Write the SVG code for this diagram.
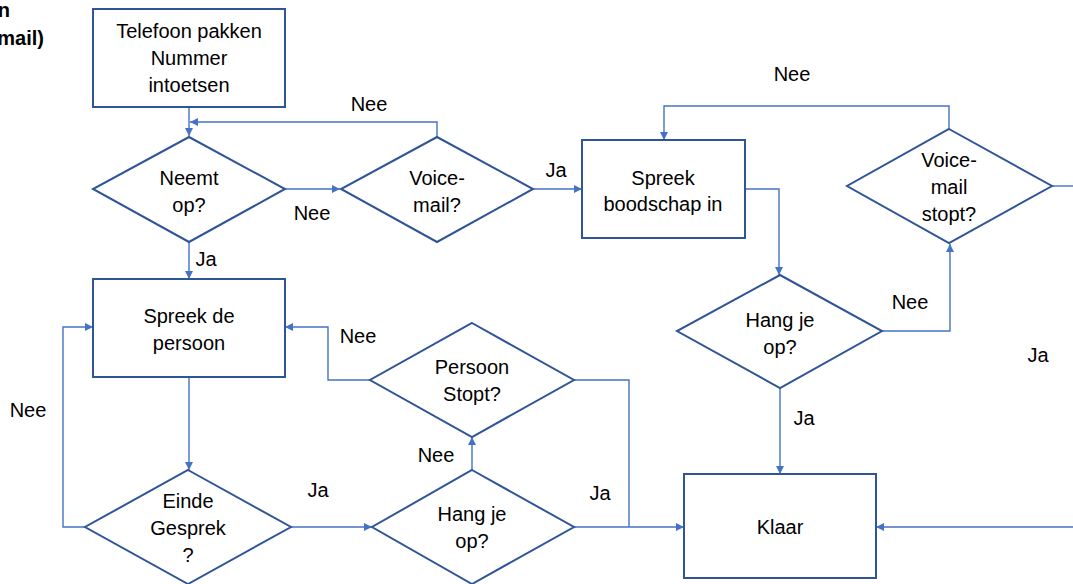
<svg xmlns="http://www.w3.org/2000/svg" width="1073" height="584" viewBox="0 0 1073 584">
<style>
.n{fill:#fff;stroke:#2F5597;stroke-width:2}
.c{fill:none;stroke:#4472C4;stroke-width:1.4}
text{font-family:"Liberation Sans",Arial,sans-serif;font-size:20px;fill:#000;text-anchor:middle}
.b{font-weight:bold;text-anchor:end}
</style>
<defs>
<marker id="a" markerUnits="userSpaceOnUse" markerWidth="9" markerHeight="8" refX="8" refY="4" orient="auto">
<path d="M0,0 L8,4 L0,8 z" fill="#4472C4"/>
</marker>
</defs>
<g id="title">
<text class="b" x="10" y="17">n</text>
<text class="b" x="44" y="45">mail)</text>
</g>
<g id="connectors">
<path class="c" d="M189,107 V136" marker-end="url(#a)"/>
<path class="c" d="M437,137 V122 H190" marker-end="url(#a)"/>
<path class="c" d="M284,189 H340" marker-end="url(#a)"/>
<path class="c" d="M533,189 H582" marker-end="url(#a)"/>
<path class="c" d="M949,129 V106 H664 V140" marker-end="url(#a)"/>
<path class="c" d="M1052,186 H1073"/>
<path class="c" d="M745,189 H779 V275" marker-end="url(#a)"/>
<path class="c" d="M882,331 H950 V244" marker-end="url(#a)"/>
<path class="c" d="M780,388 V474" marker-end="url(#a)"/>
<path class="c" d="M1073,527 H876" marker-end="url(#a)"/>
<path class="c" d="M189,242 V279" marker-end="url(#a)"/>
<path class="c" d="M189,377 V470" marker-end="url(#a)"/>
<path class="c" d="M85,527 H63 V327 H93" marker-end="url(#a)"/>
<path class="c" d="M291,527 H372" marker-end="url(#a)"/>
<path class="c" d="M472,470 V437" marker-end="url(#a)"/>
<path class="c" d="M370,380 H328 V327 H285" marker-end="url(#a)"/>
<path class="c" d="M574,380 H629 V527"/>
<path class="c" d="M574,527 H684" marker-end="url(#a)"/>
</g>
<g id="labels">
<text x="369" y="111">Nee</text>
<text x="312" y="220">Nee</text>
<text x="556" y="177">Ja</text>
<text x="792" y="81">Nee</text>
<text x="206" y="266">Ja</text>
<text x="910" y="309">Nee</text>
<text x="1038" y="362">Ja</text>
<text x="358" y="343">Nee</text>
<text x="804" y="425">Ja</text>
<text x="28" y="417">Nee</text>
<text x="436" y="462">Nee</text>
<text x="318" y="497">Ja</text>
<text x="600" y="500">Ja</text>
</g>
<g id="start">
<rect class="n" x="93" y="9" width="192" height="98"/>
<text x="189" y="38">Telefoon pakken</text>
<text x="189" y="65">Nummer</text>
<text x="189" y="92">intoetsen</text>
</g>
<g id="neemt-op">
<polygon class="n" points="189,137 285,189 189,242 93,189"/>
<text x="189" y="185">Neemt</text>
<text x="189" y="212">op?</text>
</g>
<g id="voicemail">
<polygon class="n" points="437,137 533,189 437,242 341,189"/>
<text x="437" y="185">Voice-</text>
<text x="437" y="212">mail?</text>
</g>
<g id="spreek-boodschap">
<rect class="n" x="582" y="140" width="163" height="98"/>
<text x="663" y="185">Spreek</text>
<text x="663" y="211">boodschap in</text>
</g>
<g id="voicemail-stopt">
<polygon class="n" points="949,129 1052,186 949,243 847,186"/>
<text x="949" y="167">Voice-</text>
<text x="949" y="194">mail</text>
<text x="949" y="221">stopt?</text>
</g>
<g id="hang-op-1">
<polygon class="n" points="780,275 882,331 780,388 677,331"/>
<text x="780" y="327">Hang je</text>
<text x="780" y="354">op?</text>
</g>
<g id="klaar">
<rect class="n" x="684" y="474" width="192" height="104"/>
<text x="780" y="534">Klaar</text>
</g>
<g id="spreek-persoon">
<rect class="n" x="93" y="279" width="192" height="98"/>
<text x="189" y="323">Spreek de</text>
<text x="189" y="350">persoon</text>
</g>
<g id="persoon-stopt">
<polygon class="n" points="472,323 574,380 472,437 370,380"/>
<text x="472" y="374">Persoon</text>
<text x="472" y="401">Stopt?</text>
</g>
<g id="einde-gesprek">
<polygon class="n" points="188,470 291,527 188,584 85,527"/>
<text x="188" y="508">Einde</text>
<text x="188" y="535">Gesprek</text>
<text x="188" y="562">?</text>
</g>
<g id="hang-op-2">
<polygon class="n" points="472,470 574,527 472,584 372,527"/>
<text x="472" y="521">Hang je</text>
<text x="472" y="548">op?</text>
</g>
</svg>
